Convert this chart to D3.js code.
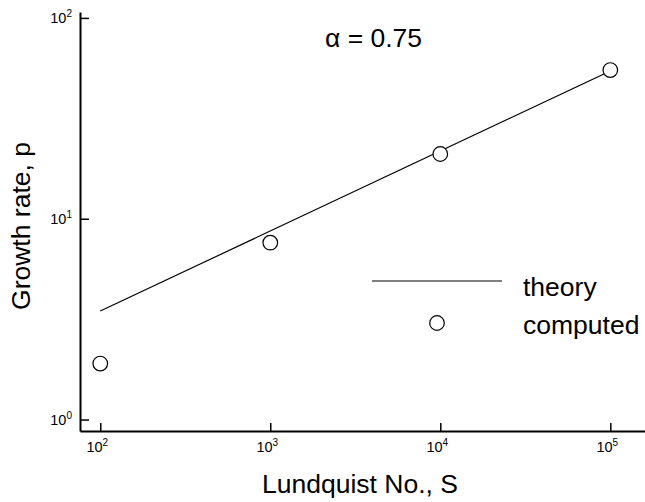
<!DOCTYPE html>
<html>
<head>
<meta charset="utf-8">
<script src="https://cdn.jsdelivr.net/npm/d3@7"></script>
<style>
  body { margin: 0; background: #fff; }
  text { font-family: "Liberation Sans", Arial, sans-serif; fill: #000; }
</style>
</head>
<body>
<div id="chart"></div>
<script>
/* DATA */
const lundquist = [100, 1000, 10000, 100000];
const growthComputed = [1.9, 7.6, 21, 55];
const theoryS = [100, 100000];
const theoryP = [3.47, 54.4];
const xMajor = [1e2, 1e3, 1e4, 1e5];
const xMajorExp = ["2", "3", "4", "5"];
const yMajor = [1, 10, 100];
const yMajorExp = ["0", "1", "2"];

const W = 645, H = 502;
const svg = d3.select("#chart").append("svg").attr("width", W).attr("height", H);

// scales (domain picked so the plot fills the frame like the original)
const x = d3.scaleLog().domain([76, 160000]).range([80, 645]);
const y = d3.scaleLog().domain([0.877, 107]).range([431, 12]);

// minor ticks 2..9 per decade, inside the domain
function minors(scale, lo) {
  const [a, b] = scale.domain();
  const out = [];
  for (let e = -1; e <= 6; e++) {
    for (let m = 2; m <= 9; m++) {
      const v = m * Math.pow(10, e);
      if (v > a && v < b && v >= lo) out.push(v);
    }
  }
  return out;
}

// x axis
const gx = svg.append("g").attr("transform", "translate(0,431)");
gx.call(d3.axisBottom(x).tickValues(minors(x, 0)).tickSize(-4).tickSizeOuter(0).tickFormat(""));
gx.call(d3.axisBottom(x).tickValues(xMajor).tickSize(-8).tickSizeOuter(0).tickFormat(""));
gx.selectAll(".domain").attr("stroke-width", 2);
gx.selectAll(".tick line").attr("stroke-width", 1.5);

// y axis
const gy = svg.append("g").attr("transform", "translate(80,0)");
gy.call(d3.axisLeft(y).tickValues(minors(y, 1)).tickSize(-5).tickSizeOuter(0).tickFormat(""));
gy.call(d3.axisLeft(y).tickValues(yMajor).tickSize(-9).tickSizeOuter(0).tickFormat(""));
gy.selectAll(".domain").attr("stroke-width", 2);
gy.selectAll(".tick line").attr("stroke-width", 1.5);

// tick labels with superscripts
const xl = svg.append("g").selectAll("text").data(xMajor).enter().append("text")
  .attr("x", d => x(d) - 3)
  .attr("y", 452)
  .attr("text-anchor", "middle")
  .style("font-size", "14.5px");
xl.append("tspan").text("10");
xl.append("tspan").attr("dy", -6).style("font-size", "10px").text((d, i) => xMajorExp[i]);

const yl = svg.append("g").selectAll("text").data(yMajor).enter().append("text")
  .attr("x", 72)
  .attr("y", d => y(d) + 5.5)
  .attr("text-anchor", "end")
  .style("font-size", "14.5px");
yl.append("tspan").text("10");
yl.append("tspan").attr("dy", -6).style("font-size", "10px").text((d, i) => yMajorExp[i]);

// theory line
const line = d3.line().x(d => x(d[0])).y(d => y(d[1]));
svg.append("path")
  .datum(theoryS.map((s, i) => [s, theoryP[i]]))
  .attr("d", line)
  .attr("fill", "none")
  .attr("stroke", "#000")
  .attr("stroke-width", 1.2);

// computed points
svg.append("g").selectAll("circle")
  .data(lundquist)
  .enter()
  .append("circle")
  .attr("cx", d => x(d))
  .attr("cy", (d, i) => y(growthComputed[i]))
  .attr("r", 7.3)
  .attr("fill", "#fff")
  .attr("stroke", "#000")
  .attr("stroke-width", 1.2);

// legend
svg.append("line").attr("x1", 372).attr("x2", 502).attr("y1", 281).attr("y2", 281)
  .attr("stroke", "#000").attr("stroke-width", 1.2);
svg.append("text").attr("x", 523).attr("y", 296).style("font-size", "26.5px").text("theory");
svg.append("circle").attr("cx", 437).attr("cy", 323).attr("r", 7.3)
  .attr("fill", "#fff").attr("stroke", "#000").attr("stroke-width", 1.2);
svg.append("text").attr("x", 523).attr("y", 334).style("font-size", "26.5px").text("computed");

// annotation
svg.append("text").attr("x", 325).attr("y", 47).style("font-size", "26.5px").text("α = 0.75");

// axis titles
svg.append("text")
  .attr("text-anchor", "middle")
  .attr("x", 360).attr("y", 493)
  .style("font-size", "26.5px")
  .text("Lundquist No., S");
svg.append("text")
  .attr("transform", "translate(29.5,226) rotate(-90)")
  .attr("text-anchor", "middle")
  .style("font-size", "26.5px")
  .text("Growth rate, p");
</script>
</body>
</html>
